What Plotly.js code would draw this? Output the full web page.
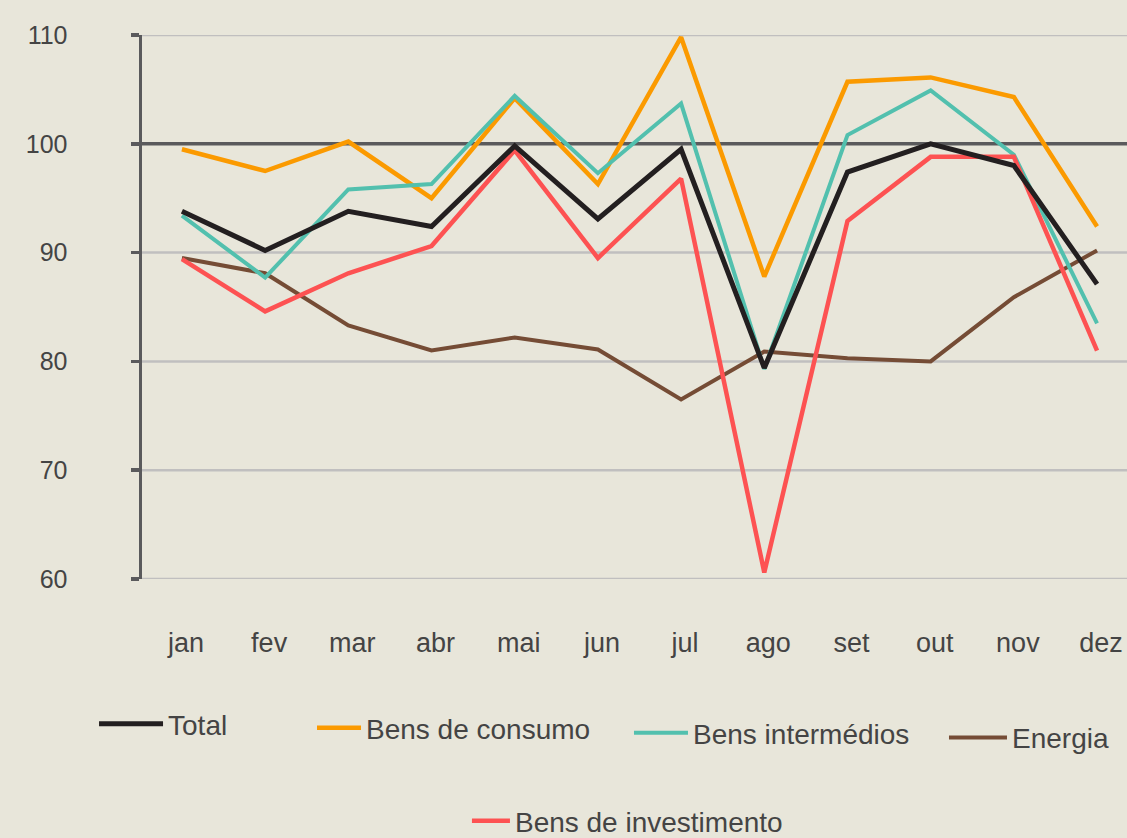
<!DOCTYPE html>
<html>
<head>
<meta charset="utf-8">
<script src="https://cdn.plot.ly/plotly-3.0.1.min.js"></script>
<style>
  html, body { margin: 0; padding: 0; background: #e8e6da; }
  #chart { width: 1127px; height: 838px; }
</style>
</head>
<body>
<div id="chart"></div>
<script>
const months = ["jan","fev","mar","abr","mai","jun","jul","ago","set","out","nov","dez"];
const total        = [93.8, 90.2, 93.8, 92.4, 99.8, 93.1, 99.5, 79.4, 97.4, 100.0, 98.0, 87.1];
const consumo      = [99.5, 97.5, 100.2, 95.0, 104.2, 96.3, 109.8, 87.8, 105.7, 106.1, 104.3, 92.4];
const intermedios  = [93.4, 87.7, 95.8, 96.3, 104.4, 97.3, 103.7, 79.3, 100.8, 104.9, 99.0, 83.5];
const energia      = [89.5, 88.1, 83.3, 81.0, 82.2, 81.1, 76.5, 80.9, 80.3, 80.0, 85.9, 90.2];
const investimento = [89.4, 84.6, 88.1, 90.6, 99.4, 89.5, 96.8, 60.6, 92.9, 98.8, 98.8, 81.0];
const seriesNames  = ["Total", "Bens de consumo", "Bens intermédios", "Energia", "Bens de investimento"];
const yTicks = [60, 70, 80, 90, 100, 110];
const baseline = 100;

const font = "Liberation Sans, Arial, sans-serif";
const txt = "#444444";

function tr(y, name, color, width, legend) {
  return {
    x: months, y: y, name: name, type: "scatter", mode: "lines",
    line: {color: color, width: width, shape: "linear"},
    legend: legend, hoverinfo: "x+y+name"
  };
}

const data = [
  tr(energia, seriesNames[3], "#754c35", 4, "legend4"),
  tr(consumo, seriesNames[1], "#fb9a00", 4.5, "legend2"),
  tr(intermedios, seriesNames[2], "#52c0ae", 4, "legend3"),
  tr(investimento, seriesNames[4], "#fd5252", 4.5, "legend5"),
  tr(total, seriesNames[0], "#231f20", 5, "legend")
];

function leg(x, y, w) {
  return {x: x, y: y, xanchor: "left", yanchor: "middle", bgcolor: "rgba(0,0,0,0)",
          font: {family: font, size: 28, color: txt}, orientation: "h", borderwidth: 0,
          itemwidth: w};
}

const gridShapes = yTicks.map(v => ({
  type: "line", xref: "paper", x0: 0, x1: 1, yref: "y", y0: v, y1: v,
  line: v === baseline ? {color: "#5a5a5c", width: 3.5} : {color: "#c0bfbf", width: 2.5},
  layer: "below"
}));

const layout = {
  width: 1127, height: 838,
  paper_bgcolor: "#e8e6da", plot_bgcolor: "#e8e6da",
  margin: {l: 142, r: 0, t: 35, b: 259, autoexpand: false},
  font: {family: font, color: txt},
  xaxis: {
    type: "category", range: [-0.48, 11.36],
    showgrid: false, zeroline: false, showline: false, ticks: "",
    tickfont: {family: font, size: 27, color: txt},
    ticklabelstandoff: 45, ticklabelshift: 4
  },
  yaxis: {
    range: [60, 110], tickvals: yTicks,
    showgrid: false,
    zeroline: false, showline: true, linecolor: "#5a5a5c", linewidth: 3.5,
    ticks: "outside", ticklen: 8, tickwidth: 3.5, tickcolor: "#5a5a5c",
    tickfont: {family: font, size: 25, color: txt},
    ticklabelstandoff: 58
  },
  shapes: gridShapes,
  showlegend: true,
  legend: leg(-0.0487, -0.2665, 64),
  legend2: leg(0.1726, -0.274, 44),
  legend3: leg(0.4944, -0.283, 54),
  legend4: leg(0.8142, -0.292, 58),
  legend5: leg(0.3299, -0.445, 38)
};

Plotly.newPlot("chart", data, layout, {displayModeBar: false, staticPlot: true});
</script>
</body>
</html>
